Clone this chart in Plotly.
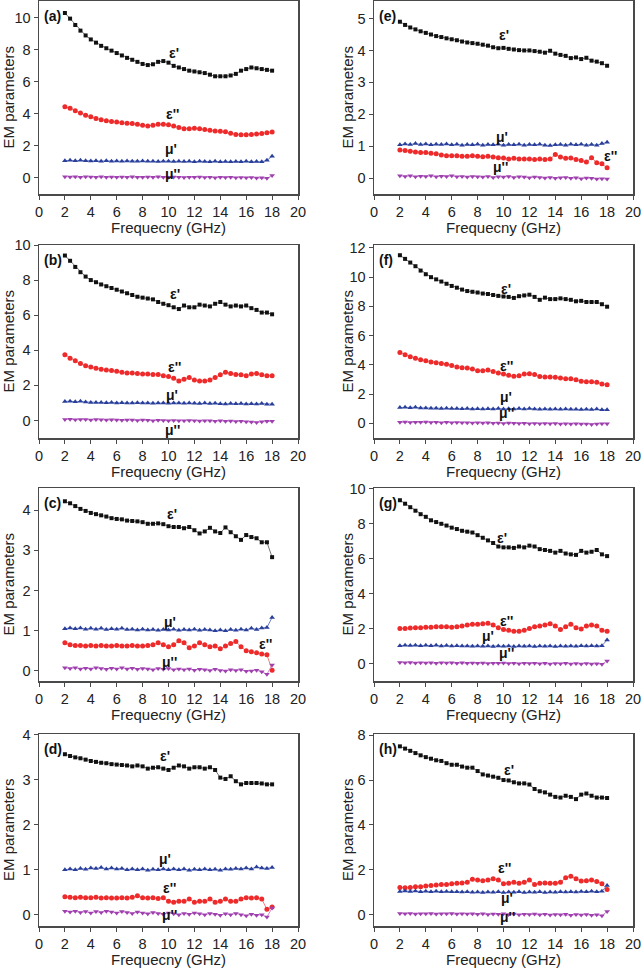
import plotly.graph_objects as go

# Frequency grid (GHz)
freq = [round(2.0 + 0.4 * i, 1) for i in range(41)]

a_eps1 = [10.3, 9.95, 9.55, 9.2, 8.9, 8.65, 8.45, 8.25, 8.1, 7.95, 7.8, 7.65, 7.5, 7.38, 7.25, 7.12, 7.05, 7.1, 7.25, 7.3, 7.2, 7.0, 6.9, 6.8, 6.7, 6.65, 6.6, 6.55, 6.45, 6.35, 6.35, 6.35, 6.4, 6.5, 6.7, 6.8, 6.9, 6.85, 6.8, 6.75, 6.7]
a_eps2 = [4.45, 4.35, 4.2, 4.05, 3.92, 3.82, 3.72, 3.63, 3.57, 3.53, 3.5, 3.45, 3.42, 3.4, 3.35, 3.3, 3.25, 3.3, 3.35, 3.35, 3.33, 3.25, 3.15, 3.08, 3.08, 3.1, 3.08, 3.02, 2.98, 2.93, 2.92, 2.88, 2.8, 2.72, 2.7, 2.7, 2.72, 2.75, 2.78, 2.82, 2.87]
a_mu1 = [1.08, 1.1, 1.07, 1.1, 1.08, 1.06, 1.08, 1.05, 1.07, 1.05, 1.06, 1.04, 1.06, 1.05, 1.04, 1.06, 1.04, 1.05, 1.03, 1.05, 1.04, 1.03, 1.05, 1.03, 1.04, 1.02, 1.04, 1.03, 1.02, 1.04, 1.02, 1.03, 1.01, 1.03, 1.02, 1.04, 1.02, 1.03, 1.01, 1.1, 1.35]
a_mu2 = [0.08, 0.06, 0.08, 0.05, 0.07, 0.06, 0.05, 0.07, 0.05, 0.06, 0.04, 0.06, 0.05, 0.07, 0.05, 0.04, 0.06, 0.05, 0.07, 0.05, 0.04, 0.06, 0.05, 0.03, 0.05, 0.04, 0.06, 0.03, 0.04, 0.02, 0.04, 0.03, 0.05, 0.02, 0.03, 0.01, 0.03, 0.0, 0.01, -0.02, 0.15]

e_eps1 = [4.9, 4.8, 4.72, 4.66, 4.6, 4.55, 4.5, 4.45, 4.42, 4.38, 4.35, 4.32, 4.28, 4.25, 4.23, 4.21, 4.18, 4.15, 4.1, 4.07, 4.08, 4.05, 4.03, 4.01, 4.0, 4.0, 3.98, 3.96, 3.93, 3.99, 3.9, 3.86, 3.83, 3.76, 3.78, 3.73, 3.77, 3.68, 3.65, 3.6, 3.52]
e_eps2 = [0.88, 0.86, 0.84, 0.82, 0.8, 0.8, 0.78, 0.76, 0.72, 0.7, 0.7, 0.7, 0.68, 0.68, 0.7, 0.68, 0.67, 0.68, 0.66, 0.64, 0.63, 0.6, 0.62, 0.6, 0.6, 0.6, 0.58, 0.6, 0.58, 0.6, 0.74, 0.66, 0.62, 0.63, 0.58, 0.55, 0.5, 0.64, 0.48, 0.45, 0.32]
e_mu1 = [1.04, 1.07, 1.05, 1.08, 1.05, 1.07, 1.04, 1.06, 1.05, 1.07, 1.04, 1.06, 1.03, 1.05, 1.04, 1.06, 1.03, 1.05, 1.04, 1.06, 1.03, 1.05, 1.04, 1.06, 1.03, 1.05, 1.04, 1.06, 1.03, 1.02, 1.04, 1.05, 1.03, 1.06, 1.04, 1.06, 1.03, 1.05, 1.03, 1.08, 1.12]
e_mu2 = [0.07, 0.05, 0.07, 0.04, 0.06, 0.05, 0.07, 0.04, 0.06, 0.05, 0.07, 0.04, 0.05, 0.03, 0.05, 0.04, 0.03, 0.05, 0.02, 0.04, 0.03, 0.05, 0.02, 0.04, 0.03, 0.01, 0.03, 0.02, 0.0, 0.02, -0.01, 0.01, 0.02, -0.01, 0.01, -0.02, 0.0, -0.01, -0.03, -0.02, -0.03]

b_eps1 = [9.4, 9.1, 8.75, 8.45, 8.2, 8.0, 7.88, 7.75, 7.65, 7.55, 7.45, 7.35, 7.25, 7.15, 7.05, 7.0, 6.95, 6.9, 6.75, 6.65, 6.57, 6.45, 6.35, 6.55, 6.45, 6.45, 6.6, 6.55, 6.5, 6.65, 6.75, 6.6, 6.5, 6.55, 6.5, 6.55, 6.4, 6.3, 6.15, 6.15, 6.05]
b_eps2 = [3.75, 3.55, 3.4, 3.25, 3.12, 3.05, 2.98, 2.92, 2.88, 2.85, 2.8, 2.75, 2.7, 2.7, 2.68, 2.65, 2.65, 2.62, 2.62, 2.55, 2.5, 2.4, 2.25, 2.35, 2.45, 2.3, 2.25, 2.25, 2.3, 2.45, 2.6, 2.75, 2.68, 2.62, 2.6, 2.55, 2.65, 2.68, 2.6, 2.55, 2.55]
b_mu1 = [1.08, 1.1, 1.06, 1.09, 1.05, 1.03, 1.02, 1.03, 1.01, 1.02, 1.0, 1.01, 0.99, 1.0, 1.01, 0.99, 1.0, 0.98, 1.0, 0.99, 0.98, 1.0, 0.99, 0.98, 1.0, 0.98, 0.97, 0.99, 0.97, 0.98, 0.95, 0.94, 0.96, 0.95, 0.97, 0.94, 0.95, 0.94, 0.96, 0.93, 0.93]
b_mu2 = [0.05, 0.07, 0.04, 0.06, 0.05, 0.03, 0.05, 0.04, 0.02, 0.04, 0.03, 0.01, 0.03, 0.02, 0.0, 0.02, 0.01, -0.01, 0.01, 0.0, -0.02, 0.0, -0.01, -0.02, 0.0, -0.01, -0.03, -0.01, -0.02, -0.04, -0.02, -0.05, -0.03, -0.06, -0.04, -0.07, -0.09, -0.11, -0.08, -0.05, -0.05]

f_eps1 = [11.5, 11.25, 11.0, 10.75, 10.45, 10.2, 10.0, 9.85, 9.7, 9.55, 9.4, 9.28, 9.15, 9.05, 9.0, 8.95, 8.88, 8.85, 8.78, 8.72, 8.68, 8.65, 8.58, 8.7, 8.75, 8.8, 8.65, 8.45, 8.6, 8.5, 8.5, 8.55, 8.5, 8.45, 8.35, 8.38, 8.3, 8.3, 8.3, 8.15, 7.98]
f_eps2 = [4.85, 4.7, 4.55, 4.45, 4.35, 4.28, 4.2, 4.15, 4.1, 4.05, 3.95, 3.85, 3.8, 3.78, 3.72, 3.6, 3.6, 3.65, 3.55, 3.45, 3.38, 3.3, 3.22, 3.25, 3.38, 3.4, 3.35, 3.2, 3.18, 3.18, 3.15, 3.1, 3.05, 3.05, 2.98, 2.88, 2.85, 2.85, 2.82, 2.7, 2.65]
f_mu1 = [1.08, 1.1, 1.07, 1.1, 1.06, 1.05, 1.03, 1.04, 1.02, 1.03, 1.01, 1.02, 1.0, 1.01, 0.99, 1.0, 0.98, 1.0, 0.99, 1.01, 0.98, 1.0, 0.99, 1.01, 0.98, 1.02, 0.99, 0.97, 0.99, 0.97, 0.98, 0.96, 0.98, 0.96, 0.97, 0.95, 0.97, 0.95, 0.98, 0.94, 0.93]
f_mu2 = [0.07, 0.09, 0.06, 0.08, 0.07, 0.09, 0.06, 0.08, 0.05, 0.07, 0.05, 0.06, 0.04, 0.05, 0.03, 0.04, 0.02, 0.04, 0.01, 0.03, 0.0, 0.02, 0.01, -0.01, 0.01, -0.02, 0.0, -0.02, -0.01, -0.03, -0.01, -0.04, -0.02, -0.04, -0.03, -0.05, -0.04, -0.07, -0.05, -0.03, -0.02]

c_eps1 = [4.22, 4.17, 4.1, 4.03, 3.98, 3.93, 3.9, 3.87, 3.84, 3.8, 3.78, 3.77, 3.74, 3.73, 3.72, 3.7, 3.66, 3.66, 3.67, 3.65, 3.6, 3.58, 3.58, 3.55, 3.58, 3.5, 3.42, 3.47, 3.56, 3.47, 3.43, 3.57, 3.45, 3.35, 3.26, 3.38, 3.33, 3.3, 3.2, 3.2, 2.83]
c_eps2 = [0.7, 0.65, 0.63, 0.63, 0.62, 0.63, 0.62, 0.63, 0.62, 0.62, 0.63, 0.62, 0.62, 0.63, 0.62, 0.62, 0.63, 0.65, 0.7, 0.65, 0.6, 0.65, 0.75, 0.7, 0.58, 0.62, 0.7, 0.65, 0.6, 0.62, 0.55, 0.62, 0.68, 0.73, 0.6, 0.5, 0.48, 0.45, 0.42, 0.4, 0.02]
c_mu1 = [1.05, 1.07, 1.05, 1.07, 1.04, 1.06, 1.04, 1.06, 1.03, 1.05, 1.04, 1.06, 1.03, 1.04, 1.02, 1.04, 1.02, 1.03, 1.01, 1.03, 1.02, 1.04, 1.01, 1.03, 1.02, 1.04, 1.01, 1.03, 1.02, 1.0, 1.02, 1.0, 1.03, 1.01, 1.04, 1.02, 1.06, 1.03, 1.07, 1.08, 1.33]
c_mu2 = [0.08, 0.06, 0.08, 0.05, 0.07, 0.05, 0.08, 0.06, 0.04, 0.07, 0.05, 0.08, 0.05, 0.07, 0.04, 0.06, 0.05, 0.03, 0.06, 0.04, 0.06, 0.03, 0.05, 0.03, 0.05, 0.02, 0.04, 0.03, 0.01, 0.04, 0.01, 0.0, 0.03, 0.01, 0.03, -0.01, 0.0, 0.02, -0.02, -0.08, 0.15]

g_eps1 = [9.35, 9.15, 8.95, 8.75, 8.55, 8.4, 8.2, 8.1, 8.0, 7.9, 7.78, 7.7, 7.6, 7.55, 7.5, 7.35, 7.2, 7.05, 6.9, 6.7, 6.65, 6.65, 6.62, 6.7, 6.65, 6.75, 6.7, 6.55, 6.5, 6.45, 6.35, 6.45, 6.3, 6.25, 6.22, 6.45, 6.35, 6.4, 6.5, 6.25, 6.15]
g_eps2 = [2.0, 2.0, 2.03, 2.05, 2.05, 2.08, 2.08, 2.1, 2.1, 2.1, 2.08, 2.1, 2.15, 2.2, 2.25, 2.25, 2.28, 2.3, 2.2, 2.05, 1.95, 1.9, 1.85, 1.85, 1.9, 2.0, 2.1, 2.15, 2.2, 2.28, 2.15, 1.95, 2.1, 2.25, 2.05, 1.98, 2.15, 2.2, 2.15, 1.9, 1.85]
g_mu1 = [1.02, 1.05, 1.03, 1.05, 1.02, 1.04, 1.02, 1.04, 1.01, 1.03, 1.0, 1.02, 1.0, 1.01, 0.99, 1.01, 0.99, 1.0, 0.98, 1.0, 0.99, 1.01, 0.98, 1.0, 0.99, 1.01, 0.98, 1.0, 0.99, 1.01, 0.98, 1.0, 0.99, 1.01, 0.99, 1.02, 1.0, 1.02, 1.0, 1.02, 1.35]
g_mu2 = [0.06, 0.04, 0.06, 0.03, 0.05, 0.03, 0.05, 0.02, 0.04, 0.03, 0.05, 0.02, 0.04, 0.02, 0.03, 0.01, 0.03, 0.0, 0.02, 0.01, 0.03, 0.0, 0.02, -0.01, 0.01, 0.0, 0.02, -0.01, 0.01, -0.02, 0.0, -0.01, 0.01, -0.03, 0.0, -0.02, 0.0, -0.03, -0.01, -0.04, 0.15]

d_eps1 = [3.57, 3.53, 3.5, 3.48, 3.45, 3.42, 3.4, 3.38, 3.37, 3.35, 3.34, 3.33, 3.32, 3.3, 3.32, 3.3, 3.25, 3.27, 3.28, 3.25, 3.22, 3.27, 3.32, 3.3, 3.25, 3.28, 3.28, 3.25, 3.28, 3.22, 3.05, 3.02, 3.08, 2.97, 2.9, 2.93, 2.93, 2.93, 2.92, 2.9, 2.9]
d_eps2 = [0.4, 0.39, 0.38, 0.39, 0.38, 0.38, 0.39, 0.37, 0.38, 0.37, 0.37, 0.38, 0.37, 0.39, 0.42, 0.38, 0.37, 0.38, 0.36, 0.38, 0.3, 0.28, 0.3, 0.3, 0.35, 0.28, 0.3, 0.3, 0.35, 0.28, 0.3, 0.35, 0.3, 0.3, 0.35, 0.38, 0.37, 0.38, 0.35, 0.12, 0.17]
d_mu1 = [1.0, 1.02, 1.0, 1.03, 1.01, 1.04, 1.03, 1.05, 1.02, 1.04, 1.02, 1.03, 1.0, 1.02, 1.0, 1.02, 0.99, 1.01, 1.0, 1.02, 1.0, 1.02, 1.0, 1.02, 0.99, 1.01, 1.0, 1.02, 1.0, 1.01, 0.99, 1.02, 1.01, 1.03, 1.02, 1.04, 1.02, 1.06, 1.04, 1.03, 1.05]
d_mu2 = [0.08, 0.06, 0.08, 0.05, 0.07, 0.04, 0.07, 0.05, 0.08, 0.06, 0.04, 0.07, 0.05, 0.03, 0.06, 0.04, 0.02, 0.05, 0.03, 0.01, 0.04, 0.02, 0.0, 0.03, 0.01, 0.04, 0.02, 0.0, 0.03, 0.01, -0.01, 0.02, 0.0, 0.03, 0.0, -0.02, 0.01, -0.01, 0.0, -0.05, 0.15]

h_eps1 = [7.5, 7.4, 7.3, 7.2, 7.1, 7.02, 6.95, 6.88, 6.85, 6.75, 6.68, 6.68, 6.6, 6.55, 6.55, 6.4, 6.25, 6.2, 6.15, 6.1, 6.0, 5.98, 5.9, 5.85, 5.85, 5.8, 5.6, 5.5, 5.45, 5.35, 5.25, 5.22, 5.3, 5.25, 5.15, 5.35, 5.4, 5.3, 5.22, 5.22, 5.2]
h_eps2 = [1.22, 1.2, 1.22, 1.25, 1.25, 1.28, 1.3, 1.33, 1.35, 1.35, 1.38, 1.4, 1.42, 1.45, 1.58, 1.55, 1.52, 1.55, 1.6, 1.55, 1.38, 1.4, 1.45, 1.4, 1.45, 1.55, 1.35, 1.4, 1.42, 1.4, 1.4, 1.45, 1.65, 1.72, 1.6, 1.5, 1.52, 1.55, 1.48, 1.38, 1.12]
h_mu1 = [1.04, 1.06, 1.04, 1.06, 1.03, 1.05, 1.03, 1.05, 1.02, 1.04, 1.02, 1.03, 1.01, 1.02, 1.0, 1.01, 0.99, 1.01, 1.0, 1.02, 0.99, 1.01, 1.0, 1.02, 0.99, 1.01, 1.0, 1.02, 0.99, 1.01, 1.0, 1.02, 1.01, 1.03, 1.01, 1.04, 1.02, 1.05, 1.03, 1.05, 1.3]
h_mu2 = [0.06, 0.04, 0.06, 0.03, 0.05, 0.04, 0.06, 0.03, 0.05, 0.04, 0.06, 0.03, 0.05, 0.03, 0.04, 0.02, 0.04, 0.01, 0.03, 0.02, 0.04, 0.01, 0.03, 0.0, 0.02, 0.01, 0.03, 0.0, 0.02, -0.01, 0.01, 0.0, 0.02, -0.02, 0.01, -0.01, 0.01, -0.02, 0.0, -0.04, 0.15]

xticks = [0, 2, 4, 6, 8, 10, 12, 14, 16, 18, 20]
x_title = "Frequecny (GHz)"
y_title = "EM parameters"

W, H = 642, 969
FONT = "Arial, Liberation Sans, sans-serif"
TICK_FS = 14.5
TITLE_FS = 15
LABEL_FS = 14

# panel: letter, series, column, (top px, bottom px), y range, y dtick, label positions
panels = [
    ("a", (a_eps1, a_eps2, a_mu1, a_mu2), 0, (1, 194), [-1, 11.05], 2,
     [(10.4, 7.8, "ε'"), (10.3, 4.0, "ε''"), (10.2, 1.8, "μ'"), (10.3, 0.27, "μ''")]),
    ("e", (e_eps1, e_eps2, e_mu1, e_mu2), 1, (1, 194), [-0.5, 5.55], 1,
     [(10.05, 4.5, "ε'"), (18.3, 0.68, "ε''"), (9.9, 1.3, "μ'"), (9.8, 0.34, "μ''")]),
    ("b", (b_eps1, b_eps2, b_mu1, b_mu2), 0, (245, 438), [-1, 10], 2,
     [(10.5, 7.2, "ε'"), (10.5, 3.07, "ε''"), (10.3, 1.44, "μ'"), (10.3, -0.57, "μ''")]),
    ("f", (f_eps1, f_eps2, f_mu1, f_mu2), 1, (245, 438), [-1, 12.2], 2,
     [(10.2, 9.2, "ε'"), (10.2, 3.95, "ε''"), (10.2, 1.8, "μ'"), (10.2, 0.73, "μ''")]),
    ("c", (c_eps1, c_eps2, c_mu1, c_mu2), 0, (488, 681), [-0.25, 4.55], 1,
     [(10.3, 3.9, "ε'"), (17.5, 0.67, "ε''"), (10.1, 1.22, "μ'"), (10.1, 0.23, "μ''")]),
    ("g", (g_eps1, g_eps2, g_mu1, g_mu2), 1, (488, 681), [-1, 10.05], 2,
     [(9.9, 7.2, "ε'"), (10.2, 2.45, "ε''"), (8.8, 1.55, "μ'"), (10.2, 0.6, "μ''")]),
    ("d", (d_eps1, d_eps2, d_mu1, d_mu2), 0, (734, 926), [-0.25, 4.02], 1,
     [(9.7, 3.53, "ε'"), (10.1, 0.59, "ε''"), (9.7, 1.25, "μ'"), (10.1, 0.0, "μ''")]),
    ("h", (h_eps1, h_eps2, h_mu1, h_mu2), 1, (734, 926), [-0.5, 8.05], 2,
     [(10.4, 6.45, "ε'"), (10.05, 2.07, "ε''"), (10.3, 0.74, "μ'"), (10.3, -0.12, "μ''")]),
]

xdoms = [(39 / W, 298 / W), (374 / W, 633 / W)]
styles = [
    dict(symbol="square", size=4, color="#111111", line="#777777"),
    dict(symbol="circle", size=5, color="#ee2a2a", line="#f08080"),
    dict(symbol="triangle-up", size=5, color="#2a3f9a", line="#6a7fc8"),
    dict(symbol="triangle-down", size=5, color="#a040b0", line="#c890d0"),
]

fig = go.Figure()
annotations = []
layout = {}
for k, (letter, series, col, (top, bot), yr, dt, labels) in enumerate(panels):
    n = k + 1
    xa = "x" if n == 1 else f"x{n}"
    ya = "y" if n == 1 else f"y{n}"
    for s, st in zip(series, styles):
        assert len(s) == len(freq), (letter, len(s))
        fig.add_trace(go.Scatter(
            x=freq, y=s, xaxis=xa, yaxis=ya, mode="lines+markers",
            line=dict(color=st["line"], width=1),
            marker=dict(symbol=st["symbol"], size=st["size"], color=st["color"],
                        line=dict(width=0)),
            showlegend=False, cliponaxis=False))
    ydom = (1 - bot / H, 1 - top / H)
    axcommon = dict(showline=True, linecolor="#4a4a4a", linewidth=1.5, mirror=True,
                    ticks="outside", ticklen=4, tickwidth=1, tickcolor="#4a4a4a",
                    showgrid=False, zeroline=False, automargin=False,
                    ticklabeloverflow="allow",
                    tickfont=dict(family=FONT, size=TICK_FS, color="#222222"))
    layout["xaxis" if n == 1 else f"xaxis{n}"] = dict(
        domain=list(xdoms[col]), range=[0, 20], tickmode="array", tickvals=xticks,
        anchor=ya, **axcommon)
    layout["yaxis" if n == 1 else f"yaxis{n}"] = dict(
        domain=list(ydom), range=yr, dtick=dt, tick0=0, anchor=xa, **axcommon)
    # panel letter
    annotations.append(dict(xref=f"{xa} domain", yref=f"{ya} domain", x=0.012, y=0.975,
                            xanchor="left", yanchor="top", showarrow=False,
                            text=f"<b>({letter})</b>",
                            font=dict(family=FONT, size=LABEL_FS, color="#111111")))
    for (lx, ly, lt) in labels:
        annotations.append(dict(xref=xa, yref=ya, x=lx, y=ly, showarrow=False,
                                text=f"<b>{lt}</b>",
                                font=dict(family=FONT, size=LABEL_FS, color="#111111")))
    # axis titles
    xc = (xdoms[col][0] + xdoms[col][1]) / 2
    annotations.append(dict(xref="paper", yref="paper", x=xc, y=1 - (bot + 33) / H,
                            showarrow=False, text=x_title, xanchor="center", yanchor="middle",
                            font=dict(family=FONT, size=TITLE_FS, color="#222222")))
    ytx = 8 / W if col == 0 else 347 / W
    annotations.append(dict(xref="paper", yref="paper", x=ytx, y=(ydom[0] + ydom[1]) / 2,
                            showarrow=False, text=y_title, textangle=-90,
                            xanchor="center", yanchor="middle",
                            font=dict(family=FONT, size=TITLE_FS, color="#222222")))

fig.update_layout(width=W, height=H, margin=dict(l=0, r=0, t=0, b=0, pad=0),
                  paper_bgcolor="white", plot_bgcolor="white", hovermode=False,
                  annotations=annotations, **layout)
fig.write_html("out.html", config={"displayModeBar": False, "staticPlot": True},
               post_script="document.body.style.margin='0px';document.body.style.overflow='hidden';")
